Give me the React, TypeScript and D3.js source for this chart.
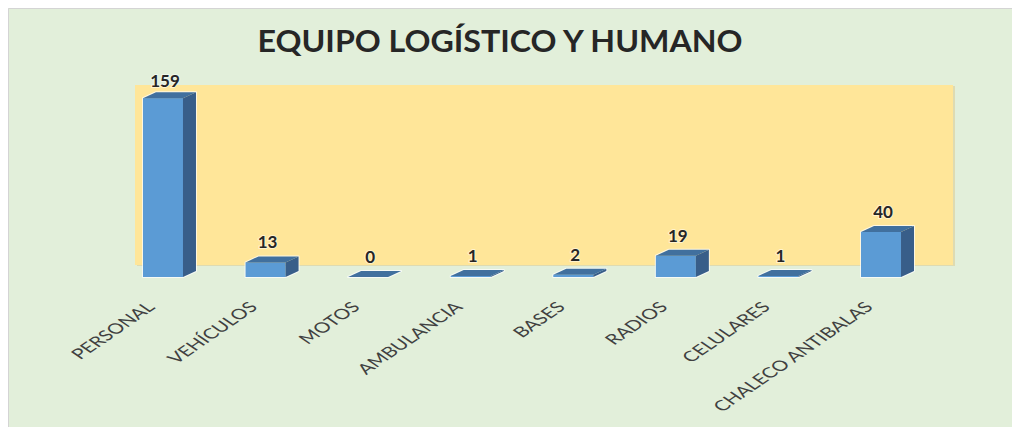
import React from 'react';
import * as d3 from 'd3';

// chart data
const categories = ['PERSONAL', 'VEHÍCULOS', 'MOTOS', 'AMBULANCIA', 'BASES', 'RADIOS', 'CELULARES', 'CHALECO ANTIBALAS'];
const values = [159, 13, 0, 1, 2, 19, 1, 40];
const title = 'EQUIPO LOGÍSTICO Y HUMANO';

const W = 1012;
const H = 419;

export default function App() {
  // Set up scales
  const x = d3.scaleBand<string>().domain(categories).range([103.7, 924.3]).padding(0);
  const y = d3.scaleLinear().domain([0, 160]).range([269, 89]);

  const barW = 40;
  const dx = 13; // depth offset
  const dy = -6;
  const wallShift = 12;

  const pts = (p: number[][]) => p.map(d => d.join(',')).join(' ');

  return (
    <svg width={W} height={H} style={{ display: 'block' }}>
      <rect x={0} y={0} width={W} height={H} fill="#E2EFDA" />
      <path d={`M0.5,${H}V0.5H${W}`} fill="none" stroke="#D4D4D4" />

      <text
        x={492}
        y={44}
        textAnchor="middle"
        fontFamily="Lato, 'Open Sans', sans-serif"
        fontWeight="bold"
        fontSize={30}
        fill="#262626"
        textLength={485}
        lengthAdjust="spacingAndGlyphs"
      >
        {title}
      </text>

      {/* back wall */}
      <rect x={129} y={y(160) - wallShift + 1} width={818} height={y(0) - y(160)} fill="#D9C88A" opacity={0.5} />
      <rect x={127} y={y(160) - wallShift} width={818} height={y(0) - y(160)} fill="#FFE699" />

      {/* bars */}
      {categories.map((c, i) => {
        const cx = (x(c) as number) + x.bandwidth() / 2;
        const x0 = cx - barW / 2;
        const x1 = cx + barW / 2;
        const yt = y(values[i]);
        const yb = y(0);
        const outline = [[x0, yb], [x1, yb], [x1 + dx, yb + dy], [x1 + dx, yt + dy], [x0 + dx, yt + dy], [x0, yt]];
        return (
          <g key={c}>
            <polygon points={pts(outline)} fill="none" stroke="#ffffff" strokeOpacity={0.7} strokeWidth={2} strokeLinejoin="round" />
            <rect x={x0} y={yt} width={barW} height={yb - yt} fill="#5B9BD5" />
            <polygon points={pts([[x1, yb], [x1 + dx, yb + dy], [x1 + dx, yt + dy], [x1, yt]])} fill="#385E89" />
            <polygon points={pts([[x0, yt], [x1, yt], [x1 + dx, yt + dy], [x0 + dx, yt + dy]])} fill="#41709E" />
            <text
              x={cx + 2}
              y={Math.max(yt - 14, y(160) - wallShift + 2)}
              textAnchor="middle"
              fontFamily="Lato, 'Open Sans', sans-serif"
              fontWeight="bold"
              fontSize={17}
              fill="#262626"
              stroke="#ffffff"
              strokeOpacity={0.5}
              strokeWidth={2}
              paintOrder="stroke"
            >
              {values[i]}
            </text>
          </g>
        );
      })}

      {/* category labels */}
      {categories.map(c => {
        const cx = (x(c) as number) + x.bandwidth() / 2;
        return (
          <text
            key={c}
            transform={`translate(${cx - 7},${300}) scale(1.45,1) rotate(-45)`}
            textAnchor="end"
            fontFamily="Lato, 'Open Sans', sans-serif"
            fontSize={14.5}
            fill="#404040"
          >
            {c}
          </text>
        );
      })}
    </svg>
  );
}
